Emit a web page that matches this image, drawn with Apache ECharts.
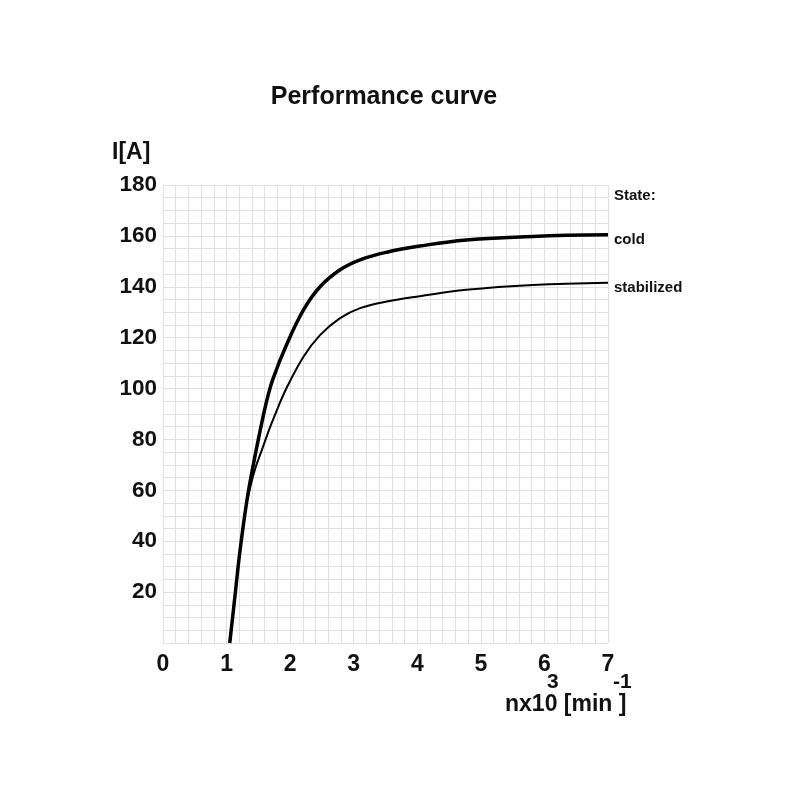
<!DOCTYPE html>
<html>
<head>
<meta charset="utf-8">
<script src="https://cdn.jsdelivr.net/npm/echarts@6/dist/echarts.min.js"></script>
<style>
  html, body { margin: 0; padding: 0; background: #fff; }
  /* width cut like the scan: "stabilize" runs off the edge */
  #main { width: 692px; height: 800px; }
</style>
</head>
<body>
<div id="main"></div>
<script>
// values: [n x10^3 min^-1, I in A]
var coldPts = [
  [1.05, 0], [1.13, 18], [1.21, 36], [1.32, 56], [1.42, 70], [1.52, 82.5],
  [1.63, 95], [1.73, 103.8], [1.94, 117], [2.21, 130.9], [2.47, 140],
  [2.78, 146.6], [3.1, 150.6], [3.52, 153.6], [4.04, 156], [4.77, 158.4],
  [5.82, 159.8], [7, 160.4]
];
var stabPts = [
  [1.05, 0], [1.13, 18], [1.21, 36], [1.3, 53], [1.37, 61], [1.45, 68.5],
  [1.55, 75.5], [1.65, 82.5], [1.75, 89], [1.94, 100], [2.21, 112.5], [2.47, 121],
  [2.78, 127.6], [3.1, 131.6], [3.52, 134.2], [4.04, 136.3], [4.77, 138.8],
  [5.82, 140.7], [7, 141.6]
];
var xTicks = [0, 1, 2, 3, 4, 5, 6, 7];
var yTicks = [20, 40, 60, 80, 100, 120, 140, 160, 180];

var FONT = 'Liberation Sans, Arial, sans-serif';
var gridColor = '#e0e0e0';

var chart = echarts.init(document.getElementById('main'));

var option = {
  animation: false,
  backgroundColor: '#fff',
  title: {
    text: 'Performance curve',
    left: 379, top: 80, textAlign: 'center',
    textStyle: { fontFamily: FONT, fontSize: 25, fontWeight: 'bold', color: '#111' }
  },
  grid: { left: 163, top: 185, width: 445, height: 458 },
  xAxis: {
    type: 'value', min: 0, max: 7, interval: 1,
    axisLine: { show: false }, axisTick: { show: false },
    axisLabel: {
      margin: 10, color: '#111', fontFamily: FONT, fontSize: 23, fontWeight: 'bold',
      formatter: function (v) { return xTicks.indexOf(v) >= 0 ? String(v) : ''; }
    },
    splitLine: { show: true, lineStyle: { color: gridColor, width: 1 } },
    minorTick: { show: false, splitNumber: 5 },
    minorSplitLine: { show: true, lineStyle: { color: gridColor, width: 1 } }
  },
  yAxis: {
    type: 'value', min: 0, max: 180, interval: 20,
    axisLine: { show: false }, axisTick: { show: false },
    axisLabel: {
      margin: 6, color: '#111', fontFamily: FONT, fontSize: 22.5, fontWeight: 'bold',
      formatter: function (v) { return yTicks.indexOf(v) >= 0 ? String(v) : ''; }
    },
    splitLine: { show: true, lineStyle: { color: gridColor, width: 1 } },
    minorTick: { show: false, splitNumber: 4 },
    minorSplitLine: { show: true, lineStyle: { color: gridColor, width: 1 } }
  },
  graphic: [
    { type: 'text', left: 112, top: 141,
      style: { text: 'I[A]', font: 'bold 23px ' + FONT, fill: '#111' } },
    { type: 'text', left: 614, top: 188,
      style: { text: 'State:', font: 'bold 15px ' + FONT, fill: '#111' } },
    { type: 'text', left: 547, top: 672,
      style: { text: '3', font: 'bold 21px ' + FONT, fill: '#111' } },
    { type: 'text', left: 613, top: 672,
      style: { text: '-1', font: 'bold 21px ' + FONT, fill: '#111' } },
    { type: 'text', left: 505, top: 693,
      style: { text: 'nx10 [min ]', font: 'bold 23px ' + FONT, fill: '#111' } }
  ],
  series: [
    {
      name: 'cold', type: 'line', data: coldPts, smooth: 0.4, showSymbol: false,
      lineStyle: { color: '#000', width: 3.5 },
      endLabel: { show: true, formatter: 'cold', distance: 6, offset: [0, 5],
        color: '#111', fontFamily: FONT, fontSize: 15, fontWeight: 'bold' }
    },
    {
      name: 'stabilized', type: 'line', data: stabPts, smooth: 0.4, showSymbol: false,
      lineStyle: { color: '#000', width: 2 },
      endLabel: { show: true, formatter: 'stabilized', distance: 6, offset: [0, 5],
        color: '#111', fontFamily: FONT, fontSize: 15, fontWeight: 'bold' }
    }
  ]
};
chart.setOption(option);
</script>
</body>
</html>
